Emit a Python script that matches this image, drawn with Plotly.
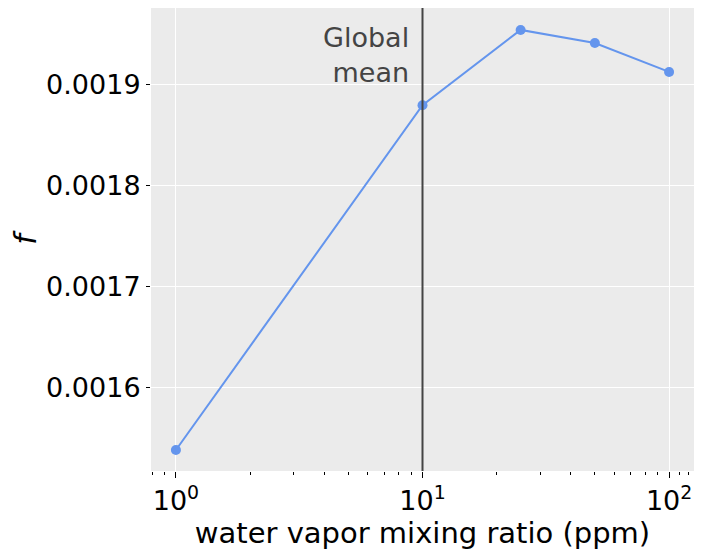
import plotly.graph_objects as go

# water vapor mixing ratio (ppm) vs f
mixing_ratio = [1, 10, 25, 50, 100]
f_values = [0.0015386, 0.001880, 0.0019545, 0.0019416, 0.0019129]
global_mean = 10

y_ticks = [0.0016, 0.0017, 0.0018, 0.0019]
x_ticks = [1, 10, 100]
x_ticklabels = ["10<sup>0</sup>", "10<sup>1</sup>", "10<sup>2</sup>"]
x_minor_ticks = [0.8, 0.9] + [k for k in range(2, 10)] + [10 * k for k in range(2, 10)] + [110, 120]

font_family = "'DejaVu Sans', sans-serif"

fig = go.Figure()
fig.add_trace(go.Scatter(
    x=mixing_ratio, y=f_values, mode="lines+markers",
    line=dict(color="#6495ED", width=2),
    marker=dict(color="#6495ED", size=10),
    showlegend=False,
))

fig.add_vline(x=global_mean, line=dict(color="#444444", width=2))
fig.add_annotation(
    x=1, xref="x", y=0.898, yref="paper",
    text="Global<br>mean", showarrow=False,
    xanchor="right", yanchor="middle", align="right", xshift=-12,
    font=dict(size=27, color="#444444", family=font_family),
)

fig.update_xaxes(
    type="log", range=[-0.101, 2.101],
    tickvals=x_ticks, ticktext=x_ticklabels,
    ticks="outside", ticklen=6, tickcolor="black",
    minor=dict(tickvals=x_minor_ticks, ticks="outside", ticklen=3, tickcolor="black", showgrid=False),
    showgrid=True, gridcolor="white", gridwidth=1,
    zeroline=False, showline=False,
    tickfont=dict(size=27, color="black", family=font_family),
    title=dict(text="water vapor mixing ratio (ppm)", font=dict(size=29, color="black", family=font_family), standoff=4),
)
fig.update_yaxes(
    range=[0.0015178, 0.0019762],
    tickvals=y_ticks, tickformat=".4f",
    ticks="outside", ticklen=4, tickcolor="black",
    showgrid=True, gridcolor="white", gridwidth=1,
    zeroline=False, showline=False,
    tickfont=dict(size=27, color="black", family=font_family),
    title=dict(text="<i>f</i>", font=dict(size=30, color="black", family=font_family), standoff=8),
)
fig.update_layout(
    width=703, height=558,
    margin=dict(l=143, r=17, t=0, b=95),
    plot_bgcolor="#EBEBEB", paper_bgcolor="white",
)
fig.write_html("out.html")
